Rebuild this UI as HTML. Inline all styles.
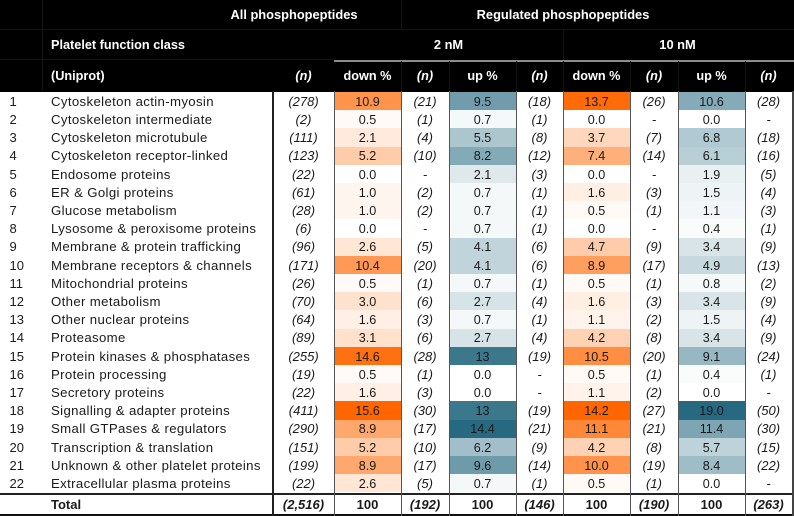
<!DOCTYPE html>
<html lang="en">
<head>
<meta charset="utf-8">
<title>Platelet phosphopeptides table</title>
<style>
html,body{margin:0;padding:0;background:#fff;}
#page{position:relative;width:794px;height:516px;overflow:hidden;background:#fff;font-family:"Liberation Sans",sans-serif;color:#1a1a1a;font-size:12.6px;filter:blur(0.3px);}
#page div{position:absolute;box-sizing:border-box;white-space:nowrap;}
.t{text-align:center;height:18px;line-height:18px;}
.h{color:#fff;font-weight:bold;}
</style>
</head>
<body>
<div id="page"></div>
<script>
var classes = ["Cytoskeleton actin-myosin","Cytoskeleton intermediate","Cytoskeleton microtubule","Cytoskeleton receptor-linked","Endosome proteins","ER & Golgi proteins","Glucose metabolism","Lysosome & peroxisome proteins","Membrane & protein trafficking","Membrane receptors & channels","Mitochondrial proteins","Other metabolism","Other nuclear proteins","Proteasome","Protein kinases & phosphatases","Protein processing","Secretory proteins","Signalling & adapter proteins","Small GTPases & regulators","Transcription & translation","Unknown & other platelet proteins","Extracellular plasma proteins"];
var allN = ["278","2","111","123","22","61","28","6","96","171","26","70","64","89","255","19","22","411","290","151","199","22"];
var down2 = ["10.9","0.5","2.1","5.2","0.0","1.0","1.0","0.0","2.6","10.4","0.5","3.0","1.6","3.1","14.6","0.5","1.6","15.6","8.9","5.2","8.9","2.6"];
var down2N = ["21","1","4","10","-","2","2","-","5","20","1","6","3","6","28","1","3","30","17","10","17","5"];
var up2 = ["9.5","0.7","5.5","8.2","2.1","0.7","0.7","0.7","4.1","4.1","0.7","2.7","0.7","2.7","13","0.0","0.0","13","14.4","6.2","9.6","0.7"];
var up2N = ["18","1","8","12","3","1","1","1","6","6","1","4","1","4","19","-","-","19","21","9","14","1"];
var down10 = ["13.7","0.0","3.7","7.4","0.0","1.6","0.5","0.0","4.7","8.9","0.5","1.6","1.1","4.2","10.5","0.5","1.1","14.2","11.1","4.2","10.0","0.5"];
var down10N = ["26","-","7","14","-","3","1","-","9","17","1","3","2","8","20","1","2","27","21","8","19","1"];
var up10 = ["10.6","0.0","6.8","6.1","1.9","1.5","1.1","0.4","3.4","4.9","0.8","3.4","1.5","3.4","9.1","0.4","0.0","19.0","11.4","5.7","8.4","0.0"];
var up10N = ["28","-","18","16","5","4","3","1","9","13","2","9","4","9","24","1","-","50","30","15","22","-"];
var totals = ["(2,516)","100","(192)","100","(146)","100","(190)","100","(263)"];

var page = document.getElementById('page');
var ROW_TOP = 92, ROW_H = 18.2;
var colX = [273,334,401,449,516,563,630,678,745,792];
var ORANGE = [255,102,0], TEAL = [38,105,128];

function box(x,y,w,h,bg){
  var d = document.createElement('div');
  d.style.left = x+'px'; d.style.top = y+'px'; d.style.width = w+'px'; d.style.height = h+'px';
  if(bg) d.style.background = bg;
  page.appendChild(d);
  return d;
}
function label(txt,x,y,w,align,cls,fs){
  var d = box(x,y-9,w,18);
  d.className = 't'+(cls?' '+cls:'');
  d.style.textAlign = align;
  d.textContent = txt;
  if(fs) d.style.fontSize = fs+'px';
  page.appendChild(d);
  return d;
}
function heat(v,max,c){
  var f = Math.max(0,Math.min(1,parseFloat(v)/max));
  return 'rgb('+[0,1,2].map(function(i){return Math.round(255+(c[i]-255)*f);}).join(',')+')';
}
function maxOf(a){return Math.max.apply(null,a.map(parseFloat));}
function rowY(i){return ROW_TOP+i*ROW_H;}

// header band
var hb = box(0,0,794,91.5,'#000');


[[0,29,794],[0,59,334]].forEach(function(l){box(l[0],l[1],l[2],1,'#141414');});
box(334,60,460,1.5,'#8c8c8c');
[[42,0,91],[401,0,29],[563,30,30]].forEach(function(l){box(l[0],l[1],1,l[2],'#161616');});
[401,449,516,563,630,678,745].forEach(function(x){box(x,61,1,31,'#141414');});

var h1 = label('All phosphopeptides',166,15,256,'center','h',12.85);


var h2 = label('Regulated phosphopeptides',435,15,256,'center','h',12.85);


var h3 = label('Platelet function class',51,45,220,'left','h',12.7);


var h4 = label('2 nM',334,45,229,'center','h',12.85);


var h5 = label('10 nM',563,45,229,'center','h',12.85);


var h6 = label('(Uniprot)',51,76,220,'left','h',12.7);



var colHeads = ['(n)','down %','(n)','up %','(n)','down %','(n)','up %','(n)'];
colHeads.forEach(function(t,i){
  var d = label(t,colX[i],76,colX[i+1]-colX[i],'center','h',12.7);
  if(t==='(n)') d.style.fontStyle = 'italic';
  
  
});

// body columns
var bodyCols = [
  {v:allN,n:true},{v:down2,c:ORANGE},{v:down2N,n:true},{v:up2,c:TEAL},{v:up2N,n:true},
  {v:down10,c:ORANGE},{v:down10N,n:true},{v:up10,c:TEAL},{v:up10N,n:true}
];
classes.forEach(function(name,r){
  var cy = rowY(r)+ROW_H/2+0.7;
  var num = label(String(r+1),9.5,cy,30,'left');
  num.style.fontSize = '13px';
  
  
  var cl = label(name,51,cy,222,'left');
  cl.style.fontSize = '13.2px';
  cl.style.letterSpacing = '0.36px';
  
  
  bodyCols.forEach(function(col,k){
    var x = colX[k], w = colX[k+1]-colX[k], v = col.v[r];
    if(col.c){
      var cell = box(x,rowY(r),w,ROW_H,heat(v,maxOf(col.v),col.c));
      
      
    }
    var txt = col.n ? (v==='-' ? '-' : '('+v+')') : v;
    var t = label(txt,x,cy,w,'center');
    if(col.n){ t.style.fontStyle = 'italic'; t.style.fontSize = '13px'; }
    
    
  });
});

// total row
var tl = label('Total',51,505,220,'left');
tl.style.fontWeight = 'bold';
tl.style.fontSize = '13px';


totals.forEach(function(t,k){
  var d = label(t,colX[k],505,colX[k+1]-colX[k],'center');
  d.style.fontWeight = 'bold';
  d.style.fontSize = '13px';
  if(t.charAt(0)==='(') d.style.fontStyle = 'italic';
  
  
});

// rules
box(0,493,794,2,'#222');
box(0,514,794,2,'#111');
box(272,91,2,425,'#222');
[334,401,449,516,563,630,678,745].forEach(function(x){
  box(x,91,1,425,'#555');
});
box(792,91,1.5,425,'#444');
</script>
</body>
</html>
